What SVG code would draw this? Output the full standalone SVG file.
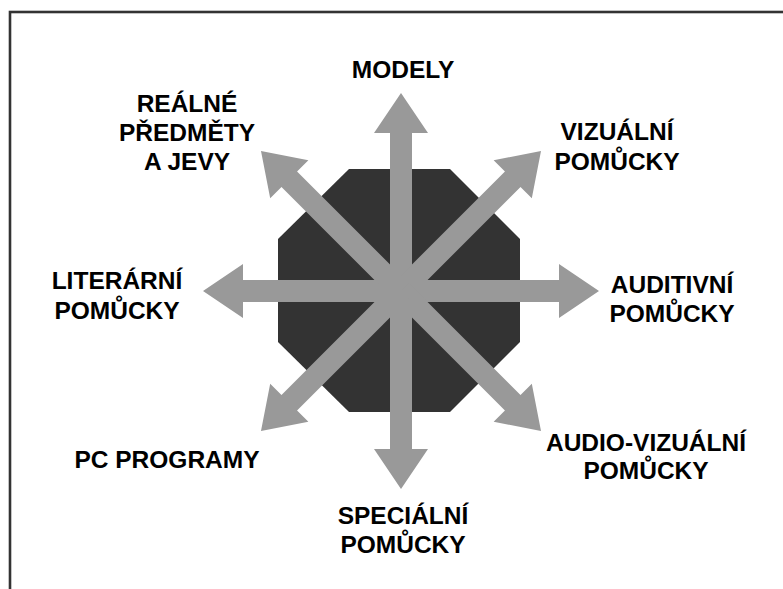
<svg xmlns="http://www.w3.org/2000/svg" xmlns:xlink="http://www.w3.org/1999/xlink" width="783" height="589" viewBox="0 0 783 589">
<style>
.lbl{font-family:"Liberation Sans",Arial,sans-serif;font-weight:bold;font-size:24.5px;fill:#000;text-anchor:middle}
.arr{fill:#999999}
</style>
<defs>
<polygon id="arm" class="arr" points="-11,0 -11,-158 -27,-158 0,-198 27,-158 11,-158 11,0"/>
</defs>
<rect width="783" height="589" fill="#fff"/>
<rect x="10" y="12" width="800" height="620" fill="none" stroke="#333" stroke-width="2.6"/>
<g id="center">
<polygon fill="#333333" points="349,169 450,169 520,239 520,342 450,412 349,412 278,342 278,239"/>
</g>
<g id="connectors" transform="translate(401,291)">
<use xlink:href="#arm"/>
<use xlink:href="#arm" transform="rotate(45)"/>
<use xlink:href="#arm" transform="rotate(90)"/>
<use xlink:href="#arm" transform="rotate(135)"/>
<use xlink:href="#arm" transform="rotate(180)"/>
<use xlink:href="#arm" transform="rotate(225)"/>
<use xlink:href="#arm" transform="rotate(270)"/>
<use xlink:href="#arm" transform="rotate(315)"/>
</g>
<g id="modely"><text class="lbl" x="403" y="78">MODELY</text></g>
<g id="realne"><text class="lbl" x="187" y="112">REÁLNÉ</text><text class="lbl" x="187" y="141">PŘEDMĚTY</text><text class="lbl" x="187" y="170">A JEVY</text></g>
<g id="vizualni"><text class="lbl" x="617" y="140">VIZUÁLNÍ</text><text class="lbl" x="617" y="170">POMŮCKY</text></g>
<g id="literarni"><text class="lbl" x="117" y="289">LITERÁRNÍ</text><text class="lbl" x="117" y="319">POMŮCKY</text></g>
<g id="auditivni"><text class="lbl" x="672" y="293">AUDITIVNÍ</text><text class="lbl" x="672" y="322">POMŮCKY</text></g>
<g id="pc"><text class="lbl" x="167" y="468">PC PROGRAMY</text></g>
<g id="audiovizualni"><text class="lbl" x="646" y="451">AUDIO-VIZUÁLNÍ</text><text class="lbl" x="646" y="479">POMŮCKY</text></g>
<g id="specialni"><text class="lbl" x="403" y="524">SPECIÁLNÍ</text><text class="lbl" x="403" y="553">POMŮCKY</text></g>
</svg>
